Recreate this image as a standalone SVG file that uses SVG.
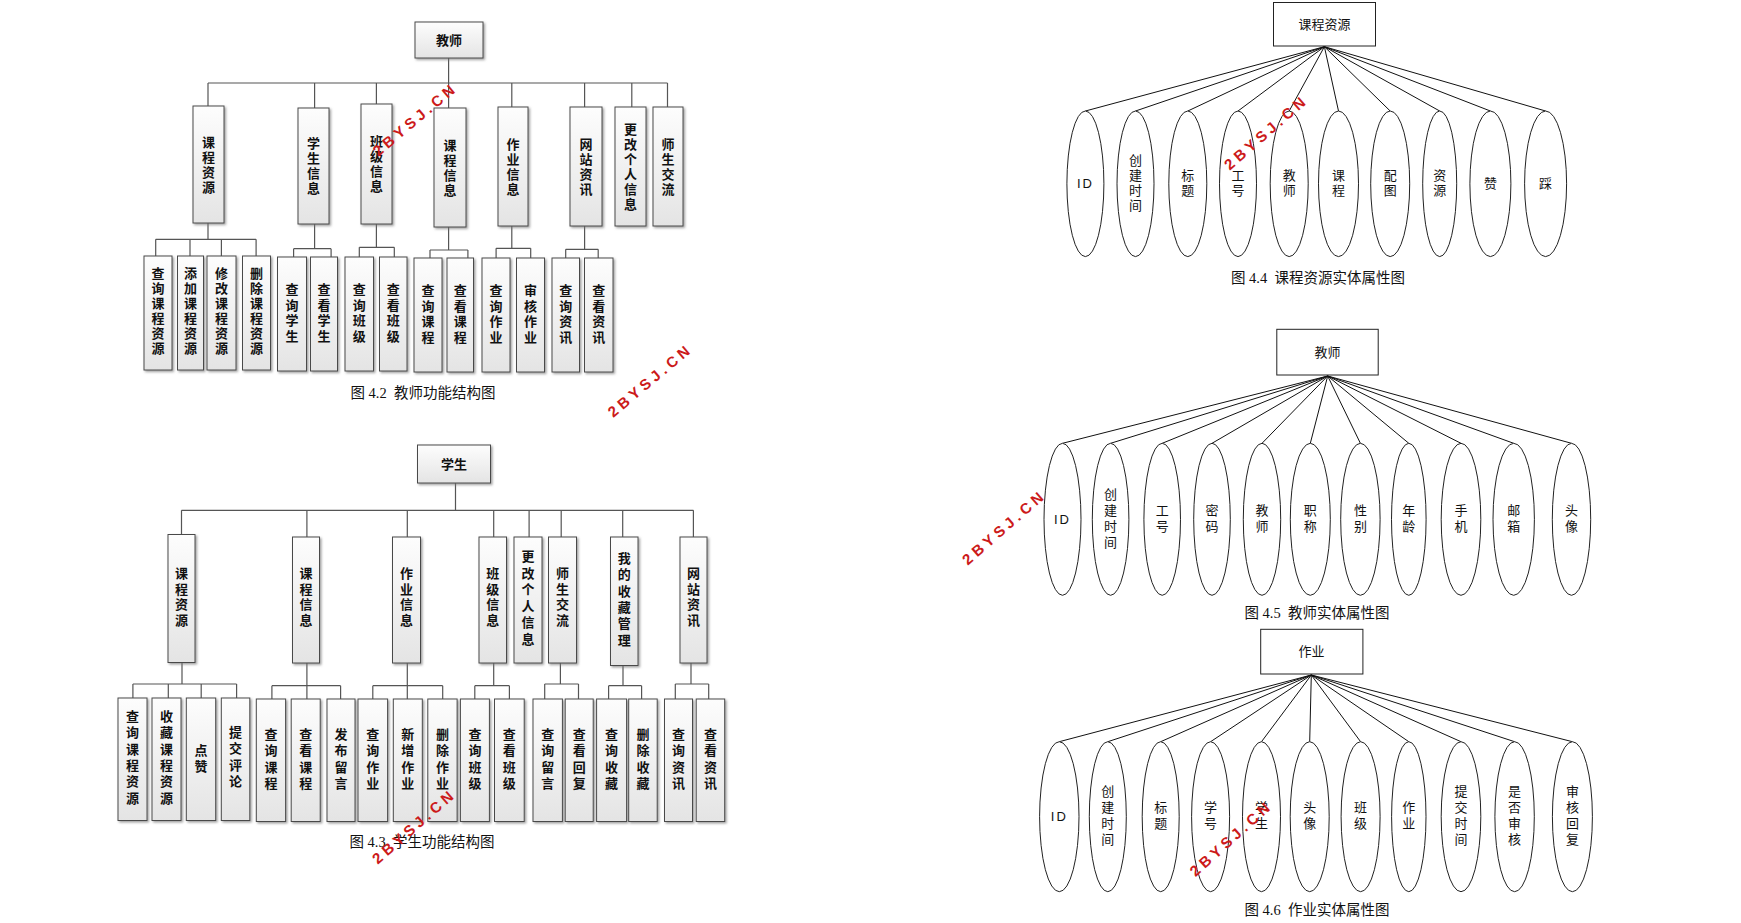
<svg xmlns="http://www.w3.org/2000/svg" width="1741" height="923" viewBox="0 0 1741 923">
<defs>
<linearGradient id="bg" x1="0" y1="0" x2="0" y2="1"><stop offset="0" stop-color="#fdfdfd"/><stop offset="1" stop-color="#e4e4e4"/></linearGradient>
<filter id="sh" x="-20%" y="-10%" width="150%" height="130%"><feDropShadow dx="1.5" dy="1.5" stdDeviation="0.8" flood-color="#777" flood-opacity="0.7"/></filter>
<style>
.fb{fill:url(#bg);stroke:#4a4a4a;stroke-width:1;filter:url(#sh)}
.ft{font-family:'Liberation Sans','Noto Sans CJK SC',sans-serif;font-size:13px;font-weight:bold;fill:#111;text-anchor:middle}
.con{fill:none;stroke:#555;stroke-width:1.2}
.er{fill:#fff;stroke:#222;stroke-width:1}
.erl{fill:none;stroke:#111;stroke-width:1}
.et{font-family:'Liberation Sans','Noto Sans CJK SC',sans-serif;font-size:13px;fill:#111;text-anchor:middle}
.cap{font-family:'Liberation Serif','Noto Sans CJK SC',serif;font-size:14.5px;fill:#111;text-anchor:middle;white-space:pre}
.wm{font-family:'Liberation Sans','DejaVu Sans',sans-serif;font-size:15px;font-weight:bold;fill:#cc1a1a;letter-spacing:4px;text-anchor:middle;dominant-baseline:central}
</style>
</defs>
<rect width="1741" height="923" fill="#fff"/>

<!-- ===== Fig 4.2 teacher function ===== -->
<g id="connectors-4-2">
<path class="con" d="M448.6,58V83M208,83H667.5M208,83V106M314.6,83V108M376.4,83V104M448.6,83V108M511.8,83V107M584.6,83V107M631.8,83V107M667.5,83V107
M208,223V239.3M155.7,239.3H256.1M155.7,239.3V256M190,239.3V256M221.4,239.3V256M256.1,239.3V256
M314.6,224V248.7M293.6,248.7H331.1M293.6,248.7V257M331.1,248.7V257
M376.4,224V247.3M359.3,247.3H394.3M359.3,247.3V257M394.3,247.3V257
M448.6,227V250M430,250H467.9M430,250V258M467.9,250V258
M511.8,226V248.3M496.1,248.3H530.7M496.1,248.3V258M530.7,248.3V258
M584.6,226V249.3M565.7,249.3H598.2M565.7,249.3V258M598.2,249.3V258"/>
</g>
<g id="t-root"><rect class="fb" x="415" y="22" width="68" height="36"/><text class="ft" x="449" y="45">教师</text></g>
<g id="t-kczy"><rect class="fb" x="193" y="106" width="31" height="117"/><text class="ft" x="208.5" y="146.5"><tspan x="208.5">课</tspan><tspan x="208.5" dy="15">程</tspan><tspan x="208.5" dy="15">资</tspan><tspan x="208.5" dy="15">源</tspan></text></g>
<g id="t-xsxx"><rect class="fb" x="298" y="108" width="31" height="116"/><text class="ft" x="313.5" y="148"><tspan x="313.5">学</tspan><tspan x="313.5" dy="15">生</tspan><tspan x="313.5" dy="15">信</tspan><tspan x="313.5" dy="15">息</tspan></text></g>
<g id="t-bjxx"><rect class="fb" x="361" y="104" width="31" height="120"/><text class="ft" x="376.5" y="146"><tspan x="376.5">班</tspan><tspan x="376.5" dy="15">级</tspan><tspan x="376.5" dy="15">信</tspan><tspan x="376.5" dy="15">息</tspan></text></g>
<g id="t-kcxx"><rect class="fb" x="434" y="108" width="32" height="119"/><text class="ft" x="450" y="149.5"><tspan x="450">课</tspan><tspan x="450" dy="15">程</tspan><tspan x="450" dy="15">信</tspan><tspan x="450" dy="15">息</tspan></text></g>
<g id="t-zyxx"><rect class="fb" x="498" y="107" width="30" height="119"/><text class="ft" x="513" y="148.5"><tspan x="513">作</tspan><tspan x="513" dy="15">业</tspan><tspan x="513" dy="15">信</tspan><tspan x="513" dy="15">息</tspan></text></g>
<g id="t-wzzx"><rect class="fb" x="570" y="107" width="32" height="119"/><text class="ft" x="586" y="148.5"><tspan x="586">网</tspan><tspan x="586" dy="15">站</tspan><tspan x="586" dy="15">资</tspan><tspan x="586" dy="15">讯</tspan></text></g>
<g id="t-ggxx"><rect class="fb" x="615" y="107" width="31" height="119"/><text class="ft" x="630.5" y="133.5"><tspan x="630.5">更</tspan><tspan x="630.5" dy="15">改</tspan><tspan x="630.5" dy="15">个</tspan><tspan x="630.5" dy="15">人</tspan><tspan x="630.5" dy="15">信</tspan><tspan x="630.5" dy="15">息</tspan></text></g>
<g id="t-ssjl"><rect class="fb" x="653" y="107" width="30" height="119"/><text class="ft" x="668" y="148.5"><tspan x="668">师</tspan><tspan x="668" dy="15">生</tspan><tspan x="668" dy="15">交</tspan><tspan x="668" dy="15">流</tspan></text></g>
<g id="t-c1"><rect class="fb" x="144" y="256" width="28" height="114"/><text class="ft" x="158" y="278"><tspan x="158">查</tspan><tspan x="158" dy="15">询</tspan><tspan x="158" dy="15">课</tspan><tspan x="158" dy="15">程</tspan><tspan x="158" dy="15">资</tspan><tspan x="158" dy="15">源</tspan></text></g>
<g id="t-c2"><rect class="fb" x="177.5" y="256" width="26" height="114"/><text class="ft" x="190.5" y="278"><tspan x="190.5">添</tspan><tspan x="190.5" dy="15">加</tspan><tspan x="190.5" dy="15">课</tspan><tspan x="190.5" dy="15">程</tspan><tspan x="190.5" dy="15">资</tspan><tspan x="190.5" dy="15">源</tspan></text></g>
<g id="t-c3"><rect class="fb" x="207" y="256" width="29" height="114"/><text class="ft" x="221.5" y="278"><tspan x="221.5">修</tspan><tspan x="221.5" dy="15">改</tspan><tspan x="221.5" dy="15">课</tspan><tspan x="221.5" dy="15">程</tspan><tspan x="221.5" dy="15">资</tspan><tspan x="221.5" dy="15">源</tspan></text></g>
<g id="t-c4"><rect class="fb" x="242.5" y="256" width="28" height="114"/><text class="ft" x="256.5" y="278"><tspan x="256.5">删</tspan><tspan x="256.5" dy="15">除</tspan><tspan x="256.5" dy="15">课</tspan><tspan x="256.5" dy="15">程</tspan><tspan x="256.5" dy="15">资</tspan><tspan x="256.5" dy="15">源</tspan></text></g>
<g id="t-c5"><rect class="fb" x="277.5" y="257" width="29" height="114"/><text class="ft" x="292" y="294"><tspan x="292">查</tspan><tspan x="292" dy="15.5">询</tspan><tspan x="292" dy="15.5">学</tspan><tspan x="292" dy="15.5">生</tspan></text></g>
<g id="t-c6"><rect class="fb" x="310.5" y="257" width="27" height="114"/><text class="ft" x="324" y="294"><tspan x="324">查</tspan><tspan x="324" dy="15.5">看</tspan><tspan x="324" dy="15.5">学</tspan><tspan x="324" dy="15.5">生</tspan></text></g>
<g id="t-c7"><rect class="fb" x="345" y="257" width="28.5" height="114"/><text class="ft" x="359.3" y="294"><tspan x="359.3">查</tspan><tspan x="359.3" dy="15.5">询</tspan><tspan x="359.3" dy="15.5">班</tspan><tspan x="359.3" dy="15.5">级</tspan></text></g>
<g id="t-c8"><rect class="fb" x="379.5" y="257" width="27.5" height="114"/><text class="ft" x="393.3" y="294"><tspan x="393.3">查</tspan><tspan x="393.3" dy="15.5">看</tspan><tspan x="393.3" dy="15.5">班</tspan><tspan x="393.3" dy="15.5">级</tspan></text></g>
<g id="t-c9"><rect class="fb" x="414" y="258" width="28" height="114"/><text class="ft" x="428" y="295"><tspan x="428">查</tspan><tspan x="428" dy="15.5">询</tspan><tspan x="428" dy="15.5">课</tspan><tspan x="428" dy="15.5">程</tspan></text></g>
<g id="t-c10"><rect class="fb" x="447" y="258" width="26.5" height="114"/><text class="ft" x="460.3" y="295"><tspan x="460.3">查</tspan><tspan x="460.3" dy="15.5">看</tspan><tspan x="460.3" dy="15.5">课</tspan><tspan x="460.3" dy="15.5">程</tspan></text></g>
<g id="t-c11"><rect class="fb" x="482" y="258" width="28" height="114"/><text class="ft" x="496" y="295"><tspan x="496">查</tspan><tspan x="496" dy="15.5">询</tspan><tspan x="496" dy="15.5">作</tspan><tspan x="496" dy="15.5">业</tspan></text></g>
<g id="t-c12"><rect class="fb" x="516.5" y="258" width="28" height="114"/><text class="ft" x="530.5" y="295"><tspan x="530.5">审</tspan><tspan x="530.5" dy="15.5">核</tspan><tspan x="530.5" dy="15.5">作</tspan><tspan x="530.5" dy="15.5">业</tspan></text></g>
<g id="t-c13"><rect class="fb" x="552" y="258" width="27.5" height="114"/><text class="ft" x="565.8" y="295"><tspan x="565.8">查</tspan><tspan x="565.8" dy="15.5">询</tspan><tspan x="565.8" dy="15.5">资</tspan><tspan x="565.8" dy="15.5">讯</tspan></text></g>
<g id="t-c14"><rect class="fb" x="584.5" y="258" width="28.5" height="114"/><text class="ft" x="598.7" y="295"><tspan x="598.7">查</tspan><tspan x="598.7" dy="15.5">看</tspan><tspan x="598.7" dy="15.5">资</tspan><tspan x="598.7" dy="15.5">讯</tspan></text></g>
<text class="cap" x="423" y="398">图 4.2  教师功能结构图</text>

<!-- ===== Fig 4.3 student function ===== -->
<g id="connectors-4-3">
<path class="con" d="M455.5,483V510.3M181.5,510.3H693.4M181.5,510.3V534.5M306.9,510.3V537M407.3,510.3V537M493.7,510.3V537M529.1,510.3V537M561.2,510.3V537M622.7,510.3V537M693.4,510.3V537
M182,662.5V684M132.9,684H236.6M132.9,684V698M168.3,684V698M201.2,684V698M236.6,684V698
M306.9,663V699M271.9,685.7H340.6M271.9,685.7V699M340.6,685.7V699
M407.3,663V699M372.8,685.7H442.7M372.8,685.7V699M442.7,685.7V699
M493.7,663V685.7M474.8,685.7H509.4M474.8,685.7V699M509.4,685.7V699
M560.4,663V684M544.7,684H578.5M544.7,684V699M578.5,684V699
M623,665.5V685.7M608.6,685.7H641.6M608.6,685.7V699M641.6,685.7V699
M691,663V684M675.3,684H708.7M675.3,684V699M708.7,684V699"/>
</g>
<g id="s-root"><rect class="fb" x="417.5" y="445" width="73" height="38"/><text class="ft" x="454" y="469">学生</text></g>
<g id="s-kczy"><rect class="fb" x="168" y="534.5" width="27" height="128"/><text class="ft" x="181.5" y="578"><tspan x="181.5">课</tspan><tspan x="181.5" dy="15.5">程</tspan><tspan x="181.5" dy="15.5">资</tspan><tspan x="181.5" dy="15.5">源</tspan></text></g>
<g id="s-kcxx"><rect class="fb" x="292.5" y="537" width="27" height="126"/><text class="ft" x="306" y="578"><tspan x="306">课</tspan><tspan x="306" dy="15.5">程</tspan><tspan x="306" dy="15.5">信</tspan><tspan x="306" dy="15.5">息</tspan></text></g>
<g id="s-zyxx"><rect class="fb" x="392.5" y="537" width="28" height="126"/><text class="ft" x="406.5" y="578"><tspan x="406.5">作</tspan><tspan x="406.5" dy="15.5">业</tspan><tspan x="406.5" dy="15.5">信</tspan><tspan x="406.5" dy="15.5">息</tspan></text></g>
<g id="s-bjxx"><rect class="fb" x="479" y="537" width="27.5" height="126"/><text class="ft" x="492.8" y="578"><tspan x="492.8">班</tspan><tspan x="492.8" dy="15.5">级</tspan><tspan x="492.8" dy="15.5">信</tspan><tspan x="492.8" dy="15.5">息</tspan></text></g>
<g id="s-ggxx"><rect class="fb" x="514" y="537" width="28" height="126"/><text class="ft" x="528" y="561"><tspan x="528">更</tspan><tspan x="528" dy="16.5">改</tspan><tspan x="528" dy="16.5">个</tspan><tspan x="528" dy="16.5">人</tspan><tspan x="528" dy="16.5">信</tspan><tspan x="528" dy="16.5">息</tspan></text></g>
<g id="s-ssjl"><rect class="fb" x="548.5" y="537" width="28" height="126"/><text class="ft" x="562.5" y="578"><tspan x="562.5">师</tspan><tspan x="562.5" dy="15.5">生</tspan><tspan x="562.5" dy="15.5">交</tspan><tspan x="562.5" dy="15.5">流</tspan></text></g>
<g id="s-scgl"><rect class="fb" x="610.5" y="537" width="27.5" height="128.5"/><text class="ft" x="624.3" y="563"><tspan x="624.3">我</tspan><tspan x="624.3" dy="16.3">的</tspan><tspan x="624.3" dy="16.3">收</tspan><tspan x="624.3" dy="16.3">藏</tspan><tspan x="624.3" dy="16.3">管</tspan><tspan x="624.3" dy="16.3">理</tspan></text></g>
<g id="s-wzzx"><rect class="fb" x="680" y="537" width="27" height="126"/><text class="ft" x="693.5" y="578"><tspan x="693.5">网</tspan><tspan x="693.5" dy="15.5">站</tspan><tspan x="693.5" dy="15.5">资</tspan><tspan x="693.5" dy="15.5">讯</tspan></text></g>
<g id="s-c1"><rect class="fb" x="118" y="698" width="29" height="122.5"/><text class="ft" x="132.5" y="721"><tspan x="132.5">查</tspan><tspan x="132.5" dy="16.3">询</tspan><tspan x="132.5" dy="16.3">课</tspan><tspan x="132.5" dy="16.3">程</tspan><tspan x="132.5" dy="16.3">资</tspan><tspan x="132.5" dy="16.3">源</tspan></text></g>
<g id="s-c2"><rect class="fb" x="152" y="698" width="29" height="122.5"/><text class="ft" x="166.5" y="721"><tspan x="166.5">收</tspan><tspan x="166.5" dy="16.3">藏</tspan><tspan x="166.5" dy="16.3">课</tspan><tspan x="166.5" dy="16.3">程</tspan><tspan x="166.5" dy="16.3">资</tspan><tspan x="166.5" dy="16.3">源</tspan></text></g>
<g id="s-c3"><rect class="fb" x="186.3" y="698" width="29.4" height="122.5"/><text class="ft" x="201" y="755"><tspan x="201">点</tspan><tspan x="201" dy="16.3">赞</tspan></text></g>
<g id="s-c4"><rect class="fb" x="221.3" y="698" width="28.5" height="122.5"/><text class="ft" x="235.5" y="737"><tspan x="235.5">提</tspan><tspan x="235.5" dy="16.3">交</tspan><tspan x="235.5" dy="16.3">评</tspan><tspan x="235.5" dy="16.3">论</tspan></text></g>
<g id="s-c5"><rect class="fb" x="256.3" y="699" width="29.3" height="122.5"/><text class="ft" x="271" y="739"><tspan x="271">查</tspan><tspan x="271" dy="16.3">询</tspan><tspan x="271" dy="16.3">课</tspan><tspan x="271" dy="16.3">程</tspan></text></g>
<g id="s-c6"><rect class="fb" x="291.2" y="699" width="29" height="122.5"/><text class="ft" x="305.7" y="739"><tspan x="305.7">查</tspan><tspan x="305.7" dy="16.3">看</tspan><tspan x="305.7" dy="16.3">课</tspan><tspan x="305.7" dy="16.3">程</tspan></text></g>
<g id="s-c7"><rect class="fb" x="327" y="699" width="28" height="122.5"/><text class="ft" x="341" y="739"><tspan x="341">发</tspan><tspan x="341" dy="16.3">布</tspan><tspan x="341" dy="16.3">留</tspan><tspan x="341" dy="16.3">言</tspan></text></g>
<g id="s-c8"><rect class="fb" x="358" y="699" width="29.6" height="122.5"/><text class="ft" x="372.8" y="739"><tspan x="372.8">查</tspan><tspan x="372.8" dy="16.3">询</tspan><tspan x="372.8" dy="16.3">作</tspan><tspan x="372.8" dy="16.3">业</tspan></text></g>
<g id="s-c9"><rect class="fb" x="393.3" y="699" width="29" height="122.5"/><text class="ft" x="407.8" y="739"><tspan x="407.8">新</tspan><tspan x="407.8" dy="16.3">增</tspan><tspan x="407.8" dy="16.3">作</tspan><tspan x="407.8" dy="16.3">业</tspan></text></g>
<g id="s-c10"><rect class="fb" x="427.8" y="699" width="29.3" height="122.5"/><text class="ft" x="442.4" y="739"><tspan x="442.4">删</tspan><tspan x="442.4" dy="16.3">除</tspan><tspan x="442.4" dy="16.3">作</tspan><tspan x="442.4" dy="16.3">业</tspan></text></g>
<g id="s-c11"><rect class="fb" x="460.4" y="699" width="29" height="122.5"/><text class="ft" x="474.9" y="739"><tspan x="474.9">查</tspan><tspan x="474.9" dy="16.3">询</tspan><tspan x="474.9" dy="16.3">班</tspan><tspan x="474.9" dy="16.3">级</tspan></text></g>
<g id="s-c12"><rect class="fb" x="494.5" y="699" width="29.7" height="122.5"/><text class="ft" x="509.3" y="739"><tspan x="509.3">查</tspan><tspan x="509.3" dy="16.3">看</tspan><tspan x="509.3" dy="16.3">班</tspan><tspan x="509.3" dy="16.3">级</tspan></text></g>
<g id="s-c13"><rect class="fb" x="533" y="699" width="29.4" height="122.5"/><text class="ft" x="547.7" y="739"><tspan x="547.7">查</tspan><tspan x="547.7" dy="16.3">询</tspan><tspan x="547.7" dy="16.3">留</tspan><tspan x="547.7" dy="16.3">言</tspan></text></g>
<g id="s-c14"><rect class="fb" x="565.2" y="699" width="28" height="122.5"/><text class="ft" x="579.2" y="739"><tspan x="579.2">查</tspan><tspan x="579.2" dy="16.3">看</tspan><tspan x="579.2" dy="16.3">回</tspan><tspan x="579.2" dy="16.3">复</tspan></text></g>
<g id="s-c15"><rect class="fb" x="596.6" y="699" width="30" height="122.5"/><text class="ft" x="611.6" y="739"><tspan x="611.6">查</tspan><tspan x="611.6" dy="16.3">询</tspan><tspan x="611.6" dy="16.3">收</tspan><tspan x="611.6" dy="16.3">藏</tspan></text></g>
<g id="s-c16"><rect class="fb" x="628.7" y="699" width="28.5" height="122.5"/><text class="ft" x="643" y="739"><tspan x="643">删</tspan><tspan x="643" dy="16.3">除</tspan><tspan x="643" dy="16.3">收</tspan><tspan x="643" dy="16.3">藏</tspan></text></g>
<g id="s-c17"><rect class="fb" x="664.5" y="699" width="28" height="122.5"/><text class="ft" x="678.5" y="739"><tspan x="678.5">查</tspan><tspan x="678.5" dy="16.3">询</tspan><tspan x="678.5" dy="16.3">资</tspan><tspan x="678.5" dy="16.3">讯</tspan></text></g>
<g id="s-c18"><rect class="fb" x="696.2" y="699" width="28.5" height="122.5"/><text class="ft" x="710.5" y="739"><tspan x="710.5">查</tspan><tspan x="710.5" dy="16.3">看</tspan><tspan x="710.5" dy="16.3">资</tspan><tspan x="710.5" dy="16.3">讯</tspan></text></g>
<text class="cap" x="422" y="847">图 4.3  学生功能结构图</text>

<!-- ===== Fig 4.4 course resource entity ===== -->
<g id="connectors-4-4">
<path class="erl" d="M1324.4,46.7L1085.4,111M1324.4,46.7L1135.5,111M1324.4,46.7L1187.8,111M1324.4,46.7L1238,111M1324.4,46.7L1289.2,111M1324.4,46.7L1338.5,111M1324.4,46.7L1390.2,111M1324.4,46.7L1439.7,111M1324.4,46.7L1490.4,111M1324.4,46.7L1545.6,111"/>
</g>
<g id="e1-root"><rect class="er" x="1273.5" y="2.5" width="102" height="43.5"/><text class="et" x="1324.4" y="29">课程资源</text></g>
<g id="e1-a1"><ellipse class="er" cx="1085.4" cy="183.8" rx="18.5" ry="72.8"/><text class="et" x="1085.4" y="188" letter-spacing="2">ID</text></g>
<g id="e1-a2"><ellipse class="er" cx="1135.5" cy="183.8" rx="18.5" ry="72.8"/><text class="et" x="1135.5" y="165"><tspan x="1135.5">创</tspan><tspan x="1135.5" dy="15">建</tspan><tspan x="1135.5" dy="15">时</tspan><tspan x="1135.5" dy="15">间</tspan></text></g>
<g id="e1-a3"><ellipse class="er" cx="1187.8" cy="183.8" rx="19" ry="72.8"/><text class="et" x="1187.8" y="180"><tspan x="1187.8">标</tspan><tspan x="1187.8" dy="15">题</tspan></text></g>
<g id="e1-a4"><ellipse class="er" cx="1238" cy="183.8" rx="18.5" ry="72.8"/><text class="et" x="1238" y="180"><tspan x="1238">工</tspan><tspan x="1238" dy="15">号</tspan></text></g>
<g id="e1-a5"><ellipse class="er" cx="1289.2" cy="183.8" rx="19" ry="72.8"/><text class="et" x="1289.2" y="180"><tspan x="1289.2">教</tspan><tspan x="1289.2" dy="15">师</tspan></text></g>
<g id="e1-a6"><ellipse class="er" cx="1338.5" cy="183.8" rx="20" ry="72.8"/><text class="et" x="1338.5" y="180"><tspan x="1338.5">课</tspan><tspan x="1338.5" dy="15">程</tspan></text></g>
<g id="e1-a7"><ellipse class="er" cx="1390.2" cy="183.8" rx="19.5" ry="72.8"/><text class="et" x="1390.2" y="180"><tspan x="1390.2">配</tspan><tspan x="1390.2" dy="15">图</tspan></text></g>
<g id="e1-a8"><ellipse class="er" cx="1439.7" cy="183.8" rx="17" ry="72.8"/><text class="et" x="1439.7" y="180"><tspan x="1439.7">资</tspan><tspan x="1439.7" dy="15">源</tspan></text></g>
<g id="e1-a9"><ellipse class="er" cx="1490.4" cy="183.8" rx="20.5" ry="72.8"/><text class="et" x="1490.4" y="188">赞</text></g>
<g id="e1-a10"><ellipse class="er" cx="1545.6" cy="183.8" rx="21" ry="72.8"/><text class="et" x="1545.6" y="188">踩</text></g>
<text class="cap" x="1318" y="283">图 4.4  课程资源实体属性图</text>

<!-- ===== Fig 4.5 teacher entity ===== -->
<g id="connectors-4-5">
<path class="erl" d="M1327.7,376L1062.5,443.3M1327.7,376L1110.6,443.3M1327.7,376L1162.2,443.3M1327.7,376L1212,443.3M1327.7,376L1262,443.3M1327.7,376L1310.3,443.3M1327.7,376L1360.4,443.3M1327.7,376L1408.8,443.3M1327.7,376L1461,443.3M1327.7,376L1513.7,443.3M1327.7,376L1571.5,443.3"/>
</g>
<g id="e2-root"><rect class="er" x="1276.8" y="329.3" width="101.4" height="45.7"/><text class="et" x="1327.5" y="357">教师</text></g>
<g id="e2-a1"><ellipse class="er" cx="1062.5" cy="519.3" rx="18.5" ry="76"/><text class="et" x="1062.5" y="523.5" letter-spacing="2">ID</text></g>
<g id="e2-a2"><ellipse class="er" cx="1110.6" cy="519.3" rx="18.3" ry="76"/><text class="et" x="1110.6" y="499"><tspan x="1110.6">创</tspan><tspan x="1110.6" dy="16">建</tspan><tspan x="1110.6" dy="16">时</tspan><tspan x="1110.6" dy="16">间</tspan></text></g>
<g id="e2-a3"><ellipse class="er" cx="1162.2" cy="519.3" rx="18.3" ry="76"/><text class="et" x="1162.2" y="515"><tspan x="1162.2">工</tspan><tspan x="1162.2" dy="16">号</tspan></text></g>
<g id="e2-a4"><ellipse class="er" cx="1212" cy="519.3" rx="18.3" ry="76"/><text class="et" x="1212" y="515"><tspan x="1212">密</tspan><tspan x="1212" dy="16">码</tspan></text></g>
<g id="e2-a5"><ellipse class="er" cx="1262" cy="519.3" rx="18.7" ry="76"/><text class="et" x="1262" y="515"><tspan x="1262">教</tspan><tspan x="1262" dy="16">师</tspan></text></g>
<g id="e2-a6"><ellipse class="er" cx="1310.3" cy="519.3" rx="20" ry="76"/><text class="et" x="1310.3" y="515"><tspan x="1310.3">职</tspan><tspan x="1310.3" dy="16">称</tspan></text></g>
<g id="e2-a7"><ellipse class="er" cx="1360.4" cy="519.3" rx="19.7" ry="76"/><text class="et" x="1360.4" y="515"><tspan x="1360.4">性</tspan><tspan x="1360.4" dy="16">别</tspan></text></g>
<g id="e2-a8"><ellipse class="er" cx="1408.8" cy="519.3" rx="17.3" ry="76"/><text class="et" x="1408.8" y="515"><tspan x="1408.8">年</tspan><tspan x="1408.8" dy="16">龄</tspan></text></g>
<g id="e2-a9"><ellipse class="er" cx="1461" cy="519.3" rx="19.8" ry="76"/><text class="et" x="1461" y="515"><tspan x="1461">手</tspan><tspan x="1461" dy="16">机</tspan></text></g>
<g id="e2-a10"><ellipse class="er" cx="1513.7" cy="519.3" rx="20.7" ry="76"/><text class="et" x="1513.7" y="515"><tspan x="1513.7">邮</tspan><tspan x="1513.7" dy="16">箱</tspan></text></g>
<g id="e2-a11"><ellipse class="er" cx="1571.5" cy="519.3" rx="19.2" ry="76"/><text class="et" x="1571.5" y="515"><tspan x="1571.5">头</tspan><tspan x="1571.5" dy="16">像</tspan></text></g>
<text class="cap" x="1317" y="618">图 4.5  教师实体属性图</text>

<!-- ===== Fig 4.6 homework entity ===== -->
<g id="connectors-4-6">
<path class="erl" d="M1311.3,675L1059.3,741.7M1311.3,675L1107.8,741.7M1311.3,675L1160.7,741.7M1311.3,675L1210.6,741.7M1311.3,675L1261.5,741.7M1311.3,675L1309.7,741.7M1311.3,675L1360.6,741.7M1311.3,675L1408.8,741.7M1311.3,675L1461,741.7M1311.3,675L1514.6,741.7M1311.3,675L1572.4,741.7"/>
</g>
<g id="e3-root"><rect class="er" x="1260.7" y="629.3" width="102.2" height="44.7"/><text class="et" x="1311.5" y="656">作业</text></g>
<g id="e3-a1"><ellipse class="er" cx="1059.3" cy="816.7" rx="19.7" ry="75"/><text class="et" x="1059.3" y="820.5" letter-spacing="2">ID</text></g>
<g id="e3-a2"><ellipse class="er" cx="1107.8" cy="816.7" rx="18.5" ry="75"/><text class="et" x="1107.8" y="796"><tspan x="1107.8">创</tspan><tspan x="1107.8" dy="16">建</tspan><tspan x="1107.8" dy="16">时</tspan><tspan x="1107.8" dy="16">间</tspan></text></g>
<g id="e3-a3"><ellipse class="er" cx="1160.7" cy="816.7" rx="18.5" ry="75"/><text class="et" x="1160.7" y="812"><tspan x="1160.7">标</tspan><tspan x="1160.7" dy="16">题</tspan></text></g>
<g id="e3-a4"><ellipse class="er" cx="1210.6" cy="816.7" rx="19" ry="75"/><text class="et" x="1210.6" y="812"><tspan x="1210.6">学</tspan><tspan x="1210.6" dy="16">号</tspan></text></g>
<g id="e3-a5"><ellipse class="er" cx="1261.5" cy="816.7" rx="19" ry="75"/><text class="et" x="1261.5" y="812"><tspan x="1261.5">学</tspan><tspan x="1261.5" dy="16">生</tspan></text></g>
<g id="e3-a6"><ellipse class="er" cx="1309.7" cy="816.7" rx="19.5" ry="75"/><text class="et" x="1309.7" y="812"><tspan x="1309.7">头</tspan><tspan x="1309.7" dy="16">像</tspan></text></g>
<g id="e3-a7"><ellipse class="er" cx="1360.6" cy="816.7" rx="19.5" ry="75"/><text class="et" x="1360.6" y="812"><tspan x="1360.6">班</tspan><tspan x="1360.6" dy="16">级</tspan></text></g>
<g id="e3-a8"><ellipse class="er" cx="1408.8" cy="816.7" rx="17.2" ry="75"/><text class="et" x="1408.8" y="812"><tspan x="1408.8">作</tspan><tspan x="1408.8" dy="16">业</tspan></text></g>
<g id="e3-a9"><ellipse class="er" cx="1461" cy="816.7" rx="19.8" ry="75"/><text class="et" x="1461" y="796"><tspan x="1461">提</tspan><tspan x="1461" dy="16">交</tspan><tspan x="1461" dy="16">时</tspan><tspan x="1461" dy="16">间</tspan></text></g>
<g id="e3-a10"><ellipse class="er" cx="1514.6" cy="816.7" rx="19.7" ry="75"/><text class="et" x="1514.6" y="796"><tspan x="1514.6">是</tspan><tspan x="1514.6" dy="16">否</tspan><tspan x="1514.6" dy="16">审</tspan><tspan x="1514.6" dy="16">核</tspan></text></g>
<g id="e3-a11"><ellipse class="er" cx="1572.4" cy="816.7" rx="20" ry="75"/><text class="et" x="1572.4" y="796"><tspan x="1572.4">审</tspan><tspan x="1572.4" dy="16">核</tspan><tspan x="1572.4" dy="16">回</tspan><tspan x="1572.4" dy="16">复</tspan></text></g>
<text class="cap" x="1317" y="915">图 4.6  作业实体属性图</text>

<!-- ===== watermarks ===== -->
<g id="watermarks">
<text class="wm" x="415" y="119" transform="rotate(-40 415 119)">2BYSJ.CN</text>
<text class="wm" x="650" y="380" transform="rotate(-40 650 380)">2BYSJ.CN</text>
<text class="wm" x="1266" y="132" transform="rotate(-41 1266 132)">2BYSJ.CN</text>
<text class="wm" x="1004" y="527" transform="rotate(-41 1004 527)">2BYSJ.CN</text>
<text class="wm" x="414" y="826" transform="rotate(-41 414 826)">2BYSJ.CN</text>
<text class="wm" x="1231" y="838" transform="rotate(-42 1231 838)">2BYSJ.CN</text>
</g>
</svg>
